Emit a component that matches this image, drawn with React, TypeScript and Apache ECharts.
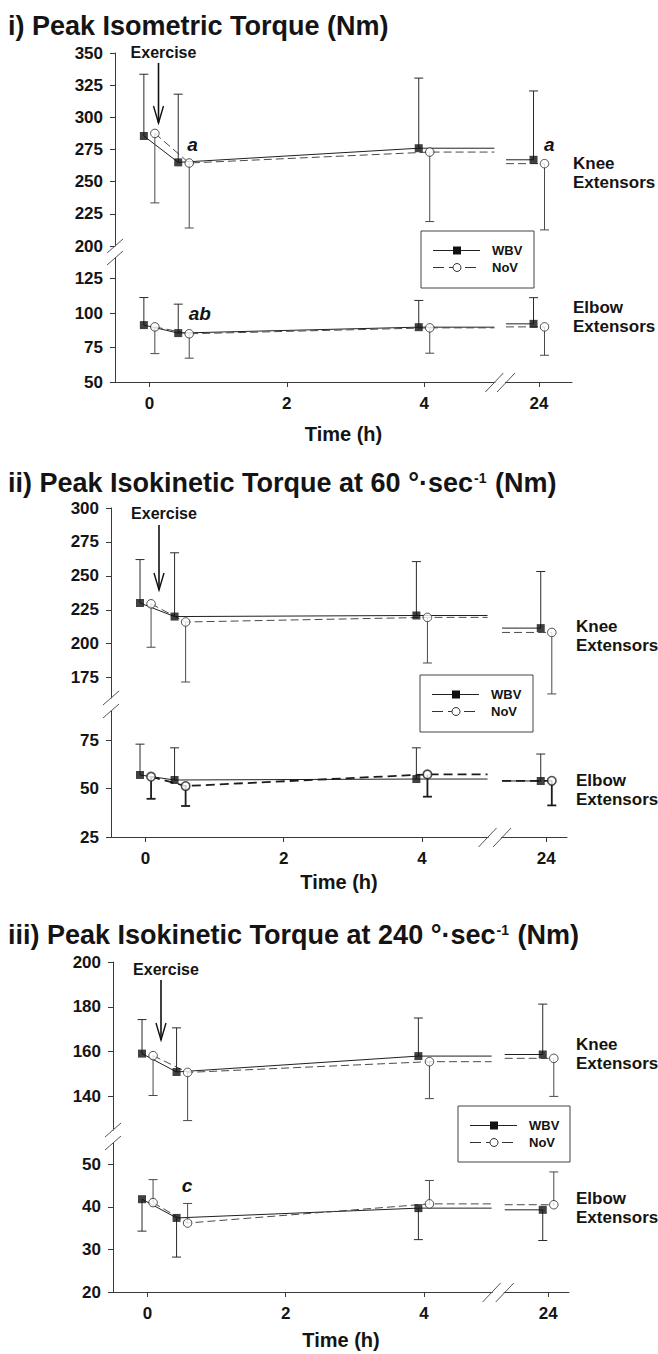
import React, { useEffect, useRef } from 'react';
import * as echarts from 'echarts';

const FONT = "Arial, 'Liberation Sans', Helvetica, sans-serif";
const INK = '#141414';
const AXIS = '#3a3a3a';

// sampling times (h); the 24 h visit sits past the broken time axis
const times = [0, 0.5, 4, 24];
const xTickTimes = [0, 2, 4, 24];
const xTickLabels = ['0', '2', '4', '24'];

// i) Peak isometric torque (Nm), mean and SD
const isoKneeWBV = [285.5, 265, 276, 267];
const isoKneeWBVSd = [48, 53, 54.5, 53.5];
const isoKneeNoV = [287.5, 264.5, 273, 264];
const isoKneeNoVSd = [54, 50.5, 54, 51.5];
const isoElbowWBV = [91.3, 85.5, 89.8, 92.2];
const isoElbowWBVSd = [20, 21, 19.4, 19];
const isoElbowNoV = [90, 85, 89.3, 90];
const isoElbowNoVSd = [19.4, 17.7, 18.4, 20.6];
const isoKneeTicks = [200, 225, 250, 275, 300, 325, 350];
const isoElbowTicks = [50, 75, 100, 125];

// ii) Peak isokinetic torque at 60 deg/s (Nm)
const ik60KneeWBV = [230, 220, 220.8, 211.5];
const ik60KneeWBVSd = [32, 47, 39.7, 41.7];
const ik60KneeNoV = [229.4, 216, 219.4, 208.3];
const ik60KneeNoVSd = [32, 44.2, 33.6, 45.3];
const ik60ElbowWBV = [57, 54.4, 54.9, 53.9];
const ik60ElbowWBVSd = [15.9, 16.6, 16.1, 13.9];
const ik60ElbowNoV = [56.1, 51.3, 57.3, 54];
const ik60ElbowNoVSd = [11.4, 10.3, 11.5, 12.7];
const ik60KneeTicks = [175, 200, 225, 250, 275, 300];
const ik60ElbowTicks = [25, 50, 75];

// iii) Peak isokinetic torque at 240 deg/s (Nm)
const ik240KneeWBV = [159.1, 150.9, 158, 158.7];
const ik240KneeWBVSd = [15.2, 19.7, 17, 22.5];
const ik240KneeNoV = [158.2, 150.7, 155.5, 157];
const ik240KneeNoVSd = [17.8, 21.5, 16.5, 17];
const ik240ElbowWBV = [41.8, 37.4, 39.7, 39.3];
const ik240ElbowWBVSd = [7.5, 9.2, 7.4, 7.2];
const ik240ElbowNoV = [41, 36.2, 40.7, 40.5];
const ik240ElbowNoVSd = [5.4, 4.6, 5.5, 7.7];
const ik240KneeTicks = [140, 160, 180, 200];
const ik240ElbowTicks = [20, 30, 40, 50];

// significance letters: time point, small shift right, and height in data units
const isoKneeNotes = [
  { text: 'a', time: 0.5, dx: 0.13, value: 278.5 },
  { text: 'a', time: 24, dx: 0.15, value: 278.5 },
];
const isoElbowNotes = [{ text: 'ab', time: 0.5, dx: 0.235, value: 100 }];
const ik240ElbowNotes = [{ text: 'c', time: 0.5, dx: 0.07, value: 44.9 }];

type Note = { text: string; time: number; dx: number; value: number };
type Section = {
  wbv: number[]; wbvSd: number[]; wbvDir: number;
  nov: number[]; novSd: number[]; novDir: number;
  ticks: number[]; min: number; max: number;
  top: number; bottom: number;
  label: string[]; labelX: number; labelY: number;
  notes: Note[];
  novHeavy?: boolean;
};
type Panel = {
  title: string; titleY: number;
  left: number; right: number; xMin: number; xMax: number;
  pos24: number; breakL: number; breakR: number;
  timeY: number;
  exercise: { x: number; textY: number; top: number; bottom: number };
  legend: { x: number; y: number; w: number; h: number };
  upper: Section; lower: Section;
};

const panels: Panel[] = [
  {
    title: 'i) Peak Isometric Torque (Nm)', titleY: 26,
    left: 115, right: 572, xMin: -0.5, xMax: 6.15, pos24: 5.67, breakL: 5.02, breakR: 5.19,
    timeY: 434,
    exercise: { x: 158.5, textY: 52, top: 63, bottom: 123 },
    legend: { x: 421, y: 231, w: 113, h: 57 },
    upper: {
      wbv: isoKneeWBV, wbvSd: isoKneeWBVSd, wbvDir: 1, nov: isoKneeNoV, novSd: isoKneeNoVSd, novDir: -1,
      ticks: isoKneeTicks, min: 200, max: 350, top: 53, bottom: 246,
      label: ['Knee', 'Extensors'], labelX: 573, labelY: 163, notes: isoKneeNotes,
    },
    lower: {
      wbv: isoElbowWBV, wbvSd: isoElbowWBVSd, wbvDir: 1, nov: isoElbowNoV, novSd: isoElbowNoVSd, novDir: -1,
      ticks: isoElbowTicks, min: 50, max: 140, top: 258, bottom: 382,
      label: ['Elbow', 'Extensors'], labelX: 573, labelY: 307, notes: isoElbowNotes,
    },
  },
  {
    title: 'ii) Peak Isokinetic Torque at 60 °·sec{sup|-1} (Nm)', titleY: 483,
    left: 111, right: 567, xMin: -0.5, xMax: 6.1, pos24: 5.8, breakL: 4.95, breakR: 5.16,
    timeY: 882,
    exercise: { x: 159, textY: 513, top: 525, bottom: 590 },
    legend: { x: 420, y: 675, w: 113, h: 57 },
    upper: {
      wbv: ik60KneeWBV, wbvSd: ik60KneeWBVSd, wbvDir: 1, nov: ik60KneeNoV, novSd: ik60KneeNoVSd, novDir: -1,
      ticks: ik60KneeTicks, min: 160, max: 300, top: 508, bottom: 698,
      label: ['Knee', 'Extensors'], labelX: 576, labelY: 626, notes: [],
    },
    lower: {
      wbv: ik60ElbowWBV, wbvSd: ik60ElbowWBVSd, wbvDir: 1, nov: ik60ElbowNoV, novSd: ik60ElbowNoVSd, novDir: -1,
      ticks: ik60ElbowTicks, min: 25, max: 90, top: 711, bottom: 837,
      label: ['Elbow', 'Extensors'], labelX: 576, labelY: 780, notes: [], novHeavy: true,
    },
  },
  {
    title: 'iii) Peak Isokinetic Torque at 240 °·sec{sup|-1} (Nm)', titleY: 935,
    left: 113, right: 569, xMin: -0.5, xMax: 6.1, pos24: 5.8, breakL: 4.98, breakR: 5.17,
    timeY: 1340,
    exercise: { x: 161, textY: 969, top: 980, bottom: 1040 },
    legend: { x: 458, y: 1106, w: 112, h: 56 },
    upper: {
      wbv: ik240KneeWBV, wbvSd: ik240KneeWBVSd, wbvDir: 1, nov: ik240KneeNoV, novSd: ik240KneeNoVSd, novDir: -1,
      ticks: ik240KneeTicks, min: 125, max: 200, top: 962, bottom: 1130,
      label: ['Knee', 'Extensors'], labelX: 576, labelY: 1044, notes: [],
    },
    lower: {
      wbv: ik240ElbowWBV, wbvSd: ik240ElbowWBVSd, wbvDir: -1, nov: ik240ElbowNoV, novSd: ik240ElbowNoVSd, novDir: 1,
      ticks: ik240ElbowTicks, min: 20, max: 55, top: 1143, bottom: 1292,
      label: ['Elbow', 'Extensors'], labelX: 576, labelY: 1198, notes: ik240ElbowNotes,
    },
  },
];

const WBV_SHIFT = -0.08;
const NOV_SHIFT = 0.08;

const errorBars = (color: string, width: number) => (_params: any, api: any) => {
  const x = api.value(0);
  const p0 = api.coord([x, api.value(1)]);
  const p1 = api.coord([x, api.value(2)]);
  const style = { stroke: color, lineWidth: width };
  return {
    type: 'group',
    children: [
      { type: 'line', shape: { x1: p0[0], y1: p0[1], x2: p1[0], y2: p1[1] }, style },
      { type: 'line', shape: { x1: p1[0] - 4.5, y1: p1[1], x2: p1[0] + 4.5, y2: p1[1] }, style },
    ],
  };
};

const boldText = (text: string, x: number, y: number, size: number, align = 'left', extra: any = {}) => ({
  type: 'text',
  x,
  y,
  z: 10,
  style: {
    text,
    fill: INK,
    fontFamily: FONT,
    fontWeight: 'bold',
    fontSize: size,
    textAlign: align,
    textVerticalAlign: 'middle',
    ...extra,
  },
});

function buildOption() {
  const grid: any[] = [];
  const xAxis: any[] = [];
  const yAxis: any[] = [];
  const series: any[] = [];
  const graphic: any[] = [];
  let gi = 0;

  panels.forEach((p) => {
    const width = p.right - p.left;
    const pos = (t: number) => (t === 24 ? p.pos24 : t);
    const px = (v: number) => p.left + ((v - p.xMin) / (p.xMax - p.xMin)) * width;
    const tickPos = xTickTimes.map(pos);

    [p.upper, p.lower].forEach((s, k) => {
      const isBottom = k === 1;
      grid.push({
        left: p.left, top: s.top, width, height: s.bottom - s.top,
        containLabel: false, outerBoundsMode: 'none',
      });
      xAxis.push({
        gridIndex: gi, type: 'value', min: p.xMin, max: p.xMax, show: isBottom,
        axisLine: { show: true, onZero: false, lineStyle: { color: AXIS, width: 1 } },
        axisTick: { show: true, length: 5, customValues: tickPos, lineStyle: { color: AXIS } },
        axisLabel: {
          customValues: tickPos, margin: 13, color: INK, fontFamily: FONT, fontWeight: 'bold', fontSize: 17,
          formatter: (v: number) => {
            const i = tickPos.findIndex((q) => Math.abs(q - v) < 1e-6);
            return i >= 0 ? xTickLabels[i] : '';
          },
        },
        splitLine: { show: false },
      });
      yAxis.push({
        gridIndex: gi, type: 'value', min: s.min, max: s.max,
        axisLine: { show: true, onZero: false, lineStyle: { color: AXIS, width: 1 } },
        axisTick: { show: true, length: 5, customValues: s.ticks, lineStyle: { color: AXIS } },
        axisLabel: {
          customValues: s.ticks, margin: 12, color: INK, fontFamily: FONT, fontWeight: 'bold', fontSize: 17,
        },
        splitLine: { show: false },
      });

      const path = (vals: number[], off: number) => [
        [pos(times[0]) + off, vals[0]],
        [pos(times[1]) + off, vals[1]],
        [pos(times[2]) + off, vals[2]],
        [p.breakL, vals[2]],
        [(p.breakL + p.breakR) / 2, '-'],
        [p.breakR, vals[3]],
        [pos(times[3]) + off, vals[3]],
      ];
      const points = (vals: number[], off: number) => vals.map((v, i) => [pos(times[i]) + off, v]);
      const bars = (vals: number[], sd: number[], dir: number, off: number) =>
        vals.map((v, i) => [pos(times[i]) + off, v, v + dir * sd[i]]);

      const novWidth = s.novHeavy ? 1.8 : 1;
      const novColor = s.novHeavy ? '#1c1c1c' : '#4a4a4a';

      series.push(
        {
          type: 'line', name: 'WBV', xAxisIndex: gi, yAxisIndex: gi, z: 2, showSymbol: false, symbol: 'none',
          data: path(s.wbv, WBV_SHIFT), lineStyle: { color: '#202020', width: 1 }, silent: true,
        },
        {
          type: 'line', name: 'NoV', xAxisIndex: gi, yAxisIndex: gi, z: 2, showSymbol: false, symbol: 'none',
          data: path(s.nov, NOV_SHIFT),
          lineStyle: { color: novColor, width: novWidth, type: s.novHeavy ? [9, 5] : [8, 4] }, silent: true,
        },
        {
          type: 'custom', name: 'WBV SD', xAxisIndex: gi, yAxisIndex: gi, z: 3,
          renderItem: errorBars('#2a2a2a', 1), data: bars(s.wbv, s.wbvSd, s.wbvDir, WBV_SHIFT),
          encode: { x: 0, y: [1, 2] }, silent: true,
        },
        {
          type: 'custom', name: 'NoV SD', xAxisIndex: gi, yAxisIndex: gi, z: 3,
          renderItem: errorBars(s.novHeavy ? '#1c1c1c' : '#4a4a4a', novWidth),
          data: bars(s.nov, s.novSd, s.novDir, NOV_SHIFT),
          encode: { x: 0, y: [1, 2] }, silent: true,
        },
        {
          type: 'scatter', name: 'WBV', xAxisIndex: gi, yAxisIndex: gi, z: 4, symbol: 'rect', symbolSize: 8,
          itemStyle: { color: '#111' }, data: points(s.wbv, WBV_SHIFT), silent: true,
        },
        {
          type: 'scatter', name: 'NoV', xAxisIndex: gi, yAxisIndex: gi, z: 5, symbol: 'circle', symbolSize: 8.5,
          itemStyle: { color: '#fff', borderColor: '#222', borderWidth: s.novHeavy ? 1.6 : 1 },
          data: points(s.nov, NOV_SHIFT), silent: true,
        },
      );

      if (s.notes.length) {
        const notes = s.notes;
        series.push({
          type: 'custom', name: 'notes', xAxisIndex: gi, yAxisIndex: gi, z: 6, silent: true,
          data: notes.map((n) => [pos(n.time) + n.dx, n.value]),
          encode: { x: 0, y: 1 },
          renderItem: (params: any, api: any) => {
            const c = api.coord([api.value(0), api.value(1)]);
            return {
              type: 'text', x: c[0], y: c[1],
              style: {
                text: notes[params.dataIndex].text, fill: INK, fontFamily: FONT, fontWeight: 'bold',
                fontStyle: 'italic', fontSize: 19, textAlign: 'center', textVerticalAlign: 'middle',
              },
            };
          },
        });
      }

      // muscle group names at the right
      graphic.push(boldText(s.label[0], s.labelX, s.labelY, 17));
      graphic.push(boldText(s.label[1], s.labelX, s.labelY + 19.5, 17));
      gi++;
    });

    // y-axis break marks
    [p.upper.bottom, p.lower.top].forEach((y) => {
      graphic.push({
        type: 'line', z: 10,
        shape: { x1: p.left - 8, y1: y + 7, x2: p.left + 8, y2: y - 7 },
        style: { stroke: '#555', lineWidth: 1 },
      });
    });

    // x-axis break marks
    const axisY = p.lower.bottom;
    const b1 = px(p.breakL);
    const b2 = px(p.breakR);
    graphic.push({
      type: 'rect', z: 9, shape: { x: b1 + 1, y: axisY - 2, width: b2 - b1 - 2, height: 4 },
      style: { fill: '#fff' },
    });
    [b1, b2].forEach((bx) => {
      graphic.push({
        type: 'line', z: 10,
        shape: { x1: bx - 9, y1: axisY + 10, x2: bx + 9, y2: axisY - 9 },
        style: { stroke: '#555', lineWidth: 1 },
      });
    });

    // title
    graphic.push({
      type: 'text', x: 8, y: p.titleY, z: 10,
      style: {
        text: p.title, fill: INK, fontFamily: FONT, fontWeight: 'bold', fontSize: 27,
        textAlign: 'left', textVerticalAlign: 'middle',
        rich: {
          sup: {
            fontFamily: FONT, fontWeight: 'bold', fontSize: 14, fill: INK,
            verticalAlign: 'bottom', padding: [0, 1, 12, 1],
          },
        },
      },
    });

    // time axis name
    graphic.push(boldText('Time (h)', (p.left + p.right) / 2, p.timeY, 20, 'center'));

    // exercise arrow
    const e = p.exercise;
    graphic.push(boldText('Exercise', e.x + 5, e.textY, 16, 'center'));
    graphic.push({
      type: 'line', z: 10, shape: { x1: e.x, y1: e.top, x2: e.x, y2: e.bottom },
      style: { stroke: '#111', lineWidth: 1.6 },
    });
    graphic.push({
      type: 'polyline', z: 10,
      shape: { points: [[e.x - 5, e.bottom - 17], [e.x, e.bottom], [e.x + 5, e.bottom - 17]] },
      style: { stroke: '#111', lineWidth: 1.4, fill: 'none' },
    });

    // legend box
    const L = p.legend;
    graphic.push({
      type: 'rect', z: 10, shape: { x: L.x, y: L.y, width: L.w, height: L.h },
      style: { fill: '#fff', stroke: '#444', lineWidth: 1 },
    });
    const ly1 = L.y + 19.5;
    const ly2 = L.y + 36.5;
    graphic.push({
      type: 'line', z: 11, shape: { x1: L.x + 12, y1: ly1, x2: L.x + 59, y2: ly1 },
      style: { stroke: '#222', lineWidth: 1 },
    });
    graphic.push({
      type: 'rect', z: 12, shape: { x: L.x + 32, y: ly1 - 4, width: 8, height: 8 },
      style: { fill: '#111' },
    });
    graphic.push({
      type: 'line', z: 11, shape: { x1: L.x + 12, y1: ly2, x2: L.x + 59, y2: ly2 },
      style: { stroke: '#333', lineWidth: 1, lineDash: [11, 5] },
    });
    graphic.push({
      type: 'circle', z: 12, shape: { cx: L.x + 36, cy: ly2, r: 4 },
      style: { fill: '#fff', stroke: '#333', lineWidth: 1 },
    });
    graphic.push(boldText('WBV', L.x + 71, ly1, 13, 'left', { z: 12 }));
    graphic.push(boldText('NoV', L.x + 71, ly2, 13, 'left', { z: 12 }));
  });

  return {
    animation: false,
    backgroundColor: '#fff',
    grid,
    xAxis,
    yAxis,
    series,
    graphic,
  };
}

export default function App() {
  const ref = useRef<HTMLDivElement>(null);
  useEffect(() => {
    if (!ref.current) return;
    const chart = echarts.init(ref.current, null, { renderer: 'svg' });
    chart.setOption(buildOption());
    return () => chart.dispose();
  }, []);
  return (
    <div
      ref={ref}
      style={{ position: 'absolute', left: 0, top: 0, width: 658, height: 1354, background: '#fff' }}
    />
  );
}
